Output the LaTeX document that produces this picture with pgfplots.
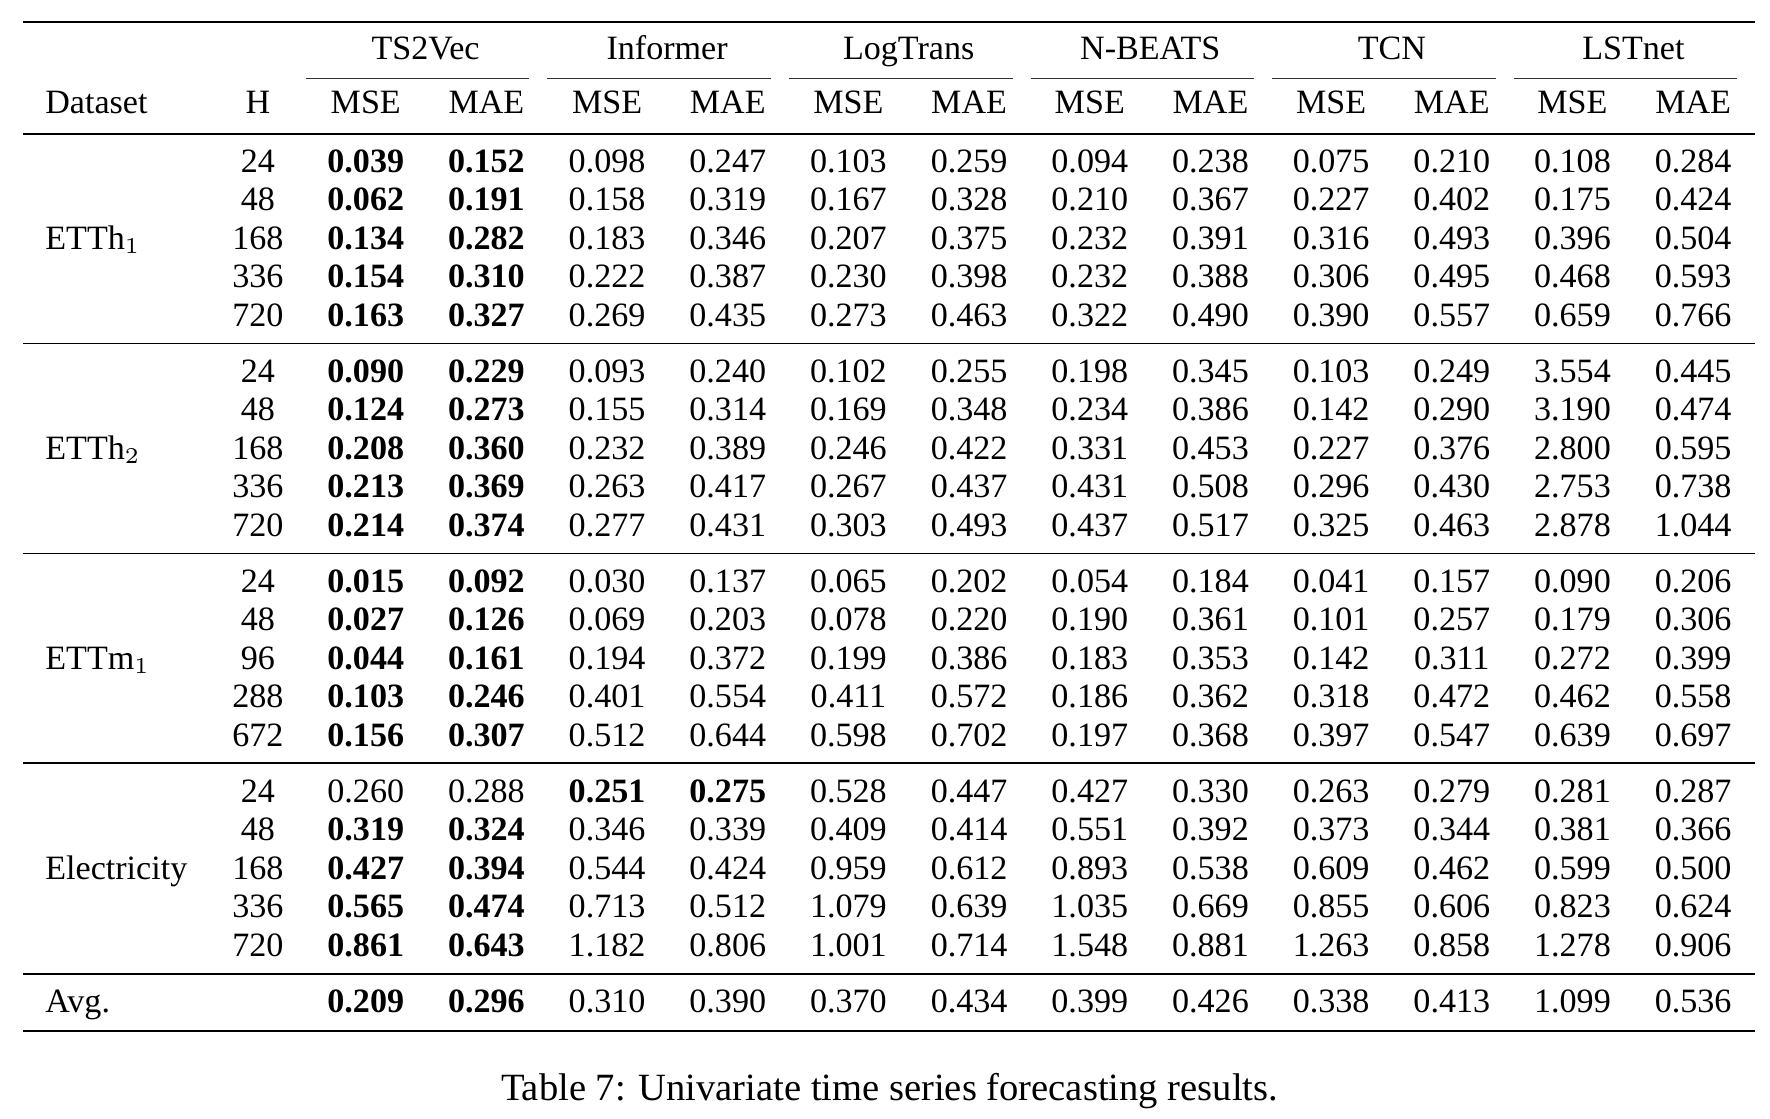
\documentclass[border=0pt]{standalone}
\usepackage{pgfplots}
\usepackage{pgfplotstable}
\usepackage{fontspec}
\setmainfont{Liberation Serif}
\pgfplotsset{compat=1.18}
\protected\def\B#1{\textbf{#1}}
\newcommand\tf{\fontsize{9.06}{11}\selectfont}
\pgfplotstableread[col sep=comma]{
y,H,c0,c1,c2,c3,c4,c5,c6,c7,c8,c9,c10,c11
152.7,24,\B{0.039},\B{0.152},0.098,0.247,0.103,0.259,0.094,0.238,0.075,0.210,0.108,0.284
186.8,48,\B{0.062},\B{0.191},0.158,0.319,0.167,0.328,0.210,0.367,0.227,0.402,0.175,0.424
220.9,168,\B{0.134},\B{0.282},0.183,0.346,0.207,0.375,0.232,0.391,0.316,0.493,0.396,0.504
255.0,336,\B{0.154},\B{0.310},0.222,0.387,0.230,0.398,0.232,0.388,0.306,0.495,0.468,0.593
289.1,720,\B{0.163},\B{0.327},0.269,0.435,0.273,0.463,0.322,0.490,0.390,0.557,0.659,0.766
338.7,24,\B{0.090},\B{0.229},0.093,0.240,0.102,0.255,0.198,0.345,0.103,0.249,3.554,0.445
372.8,48,\B{0.124},\B{0.273},0.155,0.314,0.169,0.348,0.234,0.386,0.142,0.290,3.190,0.474
406.9,168,\B{0.208},\B{0.360},0.232,0.389,0.246,0.422,0.331,0.453,0.227,0.376,2.800,0.595
441.0,336,\B{0.213},\B{0.369},0.263,0.417,0.267,0.437,0.431,0.508,0.296,0.430,2.753,0.738
475.1,720,\B{0.214},\B{0.374},0.277,0.431,0.303,0.493,0.437,0.517,0.325,0.463,2.878,1.044
524.7,24,\B{0.015},\B{0.092},0.030,0.137,0.065,0.202,0.054,0.184,0.041,0.157,0.090,0.206
558.8,48,\B{0.027},\B{0.126},0.069,0.203,0.078,0.220,0.190,0.361,0.101,0.257,0.179,0.306
592.9,96,\B{0.044},\B{0.161},0.194,0.372,0.199,0.386,0.183,0.353,0.142,0.311,0.272,0.399
627.0,288,\B{0.103},\B{0.246},0.401,0.554,0.411,0.572,0.186,0.362,0.318,0.472,0.462,0.558
661.1,672,\B{0.156},\B{0.307},0.512,0.644,0.598,0.702,0.197,0.368,0.397,0.547,0.639,0.697
710.7,24,0.260,0.288,\B{0.251},\B{0.275},0.528,0.447,0.427,0.330,0.263,0.279,0.281,0.287
744.8,48,\B{0.319},\B{0.324},0.346,0.339,0.409,0.414,0.551,0.392,0.373,0.344,0.381,0.366
778.9,168,\B{0.427},\B{0.394},0.544,0.424,0.959,0.612,0.893,0.538,0.609,0.462,0.599,0.500
813.0,336,\B{0.565},\B{0.474},0.713,0.512,1.079,0.639,1.035,0.669,0.855,0.606,0.823,0.624
847.1,720,\B{0.861},\B{0.643},1.182,0.806,1.001,0.714,1.548,0.881,1.263,0.858,1.278,0.906
896.7,{},\B{0.209},\B{0.296},0.310,0.390,0.370,0.434,0.399,0.426,0.338,0.413,1.099,0.536
}\datatable
\begin{document}
\begin{tikzpicture}
\begin{axis}[
  width=470.4pt, height=297.3pt, scale only axis,
  xmin=0, xmax=1568, ymin=0, ymax=991, y dir=reverse,
  hide axis, clip=false,
  every node near coord/.append style={anchor=base, inner sep=0pt, text=black, font=\tf},
]
\path (axis cs:0,0) rectangle (axis cs:1568,991);
% rules
\addplot[black, line width=0.72pt, mark=none] coordinates {(20.5,19.5) (1555,19.5)};
\addplot[black, line width=0.45pt, mark=none] coordinates {(20.5,118.7) (1555,118.7)};
\addplot[black, line width=0.45pt, mark=none] coordinates {(20.5,304.2) (1555,304.2)};
\addplot[black, line width=0.45pt, mark=none] coordinates {(20.5,490.2) (1555,490.2)};
\addplot[black, line width=0.45pt, mark=none] coordinates {(20.5,676.2) (1555,676.2)};
\addplot[black, line width=0.45pt, mark=none] coordinates {(20.5,863) (1555,863)};
\addplot[black, line width=0.72pt, mark=none] coordinates {(20.5,913.4) (1555,913.4)};
\pgfplotsinvokeforeach{0,...,5}{
  \addplot[black!80, line width=0.3pt, mark=none] coordinates {({271+214*#1},69.4) ({469+214*#1},69.4)};
  \node[anchor=base, inner sep=0pt, font=\tf] at (axis cs:{324+213.8*#1},100.4) {MSE};
  \node[anchor=base, inner sep=0pt, font=\tf] at (axis cs:{430.9+213.8*#1},100.4) {MAE};
}
% H column
\addplot[draw=none, mark=none, nodes near coords, point meta=explicit symbolic,
  nodes near coords align={center}]
  table[x expr=228.5, y=y, meta=H] {\datatable};
% value columns
\pgfplotsinvokeforeach{0,...,11}{
  \addplot[draw=none, mark=none, nodes near coords, point meta=explicit symbolic,
    nodes near coords align={center}]
    table[x expr={324+106.9*#1}, y=y, meta=c#1] {\datatable};
}
% headers
\node[anchor=base, inner sep=0pt, font=\tf] at (axis cs:377,52.6) {TS2Vec};
\node[anchor=base, inner sep=0pt, font=\tf] at (axis cs:591,52.6) {Informer};
\node[anchor=base, inner sep=0pt, font=\tf] at (axis cs:805,52.6) {LogTrans};
\node[anchor=base, inner sep=0pt, font=\tf] at (axis cs:1019,52.6) {N-BEATS};
\node[anchor=base, inner sep=0pt, font=\tf] at (axis cs:1233,52.6) {TCN};
\node[anchor=base, inner sep=0pt, font=\tf] at (axis cs:1447,52.6) {LSTnet};
\node[anchor=base west, inner sep=0pt, font=\tf] at (axis cs:39.5,100.4) {Dataset};
\node[anchor=base, inner sep=0pt, font=\tf] at (axis cs:228.5,100.4) {H};
\node[anchor=base west, inner sep=0pt, font=\tf] at (axis cs:39.5,220.9) {ETTh$_1$};
\node[anchor=base west, inner sep=0pt, font=\tf] at (axis cs:39.5,406.9) {ETTh$_2$};
\node[anchor=base west, inner sep=0pt, font=\tf] at (axis cs:39.5,592.9) {ETTm$_1$};
\node[anchor=base west, inner sep=0pt, font=\tf] at (axis cs:39.5,778.9) {Electricity};
\node[anchor=base west, inner sep=0pt, font=\tf] at (axis cs:39.5,896.7) {Avg.};
\node[anchor=base, inner sep=0pt, font=\fontsize{10.25}{12}\selectfont] at (axis cs:788,975) {Table 7: Univariate time series forecasting results.};
\end{axis}
\end{tikzpicture}
\end{document}
